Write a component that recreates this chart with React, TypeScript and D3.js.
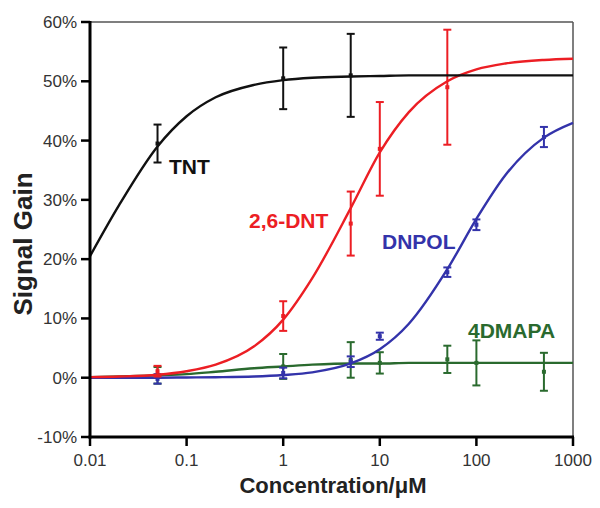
import React from "react";
import * as d3 from "d3";

const xTicks = [0.01, 0.1, 1, 10, 100, 1000];
const xTickLabels = ["0.01", "0.1", "1", "10", "100", "1000"];
const yTicks = [-10, 0, 10, 20, 30, 40, 50, 60];
const yTickLabels = ["-10%", "0%", "10%", "20%", "30%", "40%", "50%", "60%"];

const curveX = [0.01, 0.02, 0.05, 0.1, 0.2, 0.5, 1, 2, 5, 10, 20, 50, 100, 200, 500, 1000];
const tntCurve = [20.5, 29.1, 39.0, 44.1, 47.3, 49.4, 50.2, 50.6, 50.8, 50.9, 51.0, 51.0, 51.0, 51.0, 51.0, 51.0];
const dntCurve = [0.1, 0.2, 0.5, 1.1, 2.2, 5.3, 9.8, 16.8, 28.6, 38.0, 44.8, 50.0, 52.0, 53.0, 53.6, 53.8];
const dnpolCurve = [0, 0, 0, 0.04, 0.08, 0.2, 0.45, 0.9, 2.4, 4.8, 9.1, 18.3, 26.8, 34.2, 40.5, 43.0];
const dmapaCurve = [0.1, 0.2, 0.4, 0.6, 1.0, 1.6, 1.9, 2.2, 2.4, 2.4, 2.5, 2.5, 2.5, 2.5, 2.5, 2.5];

const tntX = [0.05, 1, 5];
const tntY = [39.5, 50.5, 51.0];
const tntErr = [3.2, 5.2, 7.0];

const dntX = [0.05, 1, 5, 10, 50];
const dntY = [1.1, 10.4, 26.0, 38.6, 49.0];
const dntErr = [0.9, 2.5, 5.4, 7.9, 9.7];

const dnpolX = [0.05, 1, 5, 10, 50, 100, 500];
const dnpolY = [-0.2, 0.8, 2.7, 7.0, 17.8, 25.8, 40.6];
const dnpolErr = [0.8, 0.9, 0.9, 0.6, 0.8, 0.9, 1.7];

const dmapaX = [0.05, 1, 5, 10, 50, 100, 500];
const dmapaY = [0.4, 1.9, 3.0, 2.5, 3.1, 2.5, 1.0];
const dmapaErr = [1.4, 2.1, 3.0, 1.8, 2.3, 3.8, 3.2];

const series = [
  { name: "4DMAPA", color: "#2a6a2e", curve: dmapaCurve, px: dmapaX, py: dmapaY, pe: dmapaErr, lx: 468, ly: 338 },
  { name: "DNPOL", color: "#3333aa", curve: dnpolCurve, px: dnpolX, py: dnpolY, pe: dnpolErr, lx: 382, ly: 249 },
  { name: "2,6-DNT", color: "#ec1e24", curve: dntCurve, px: dntX, py: dntY, pe: dntErr, lx: 249, ly: 228 },
  { name: "TNT", color: "#111111", curve: tntCurve, px: tntX, py: tntY, pe: tntErr, lx: 169, ly: 174 },
];

export default function App() {
  const left = 90, right = 573, top = 22, bottom = 437;
  const x = d3.scaleLog().domain([0.01, 1000]).range([left, right]);
  const y = d3.scaleLinear().domain([-10, 60]).range([bottom, top]);
  const line = d3
    .line<number>()
    .x((_, i) => x(curveX[i]))
    .y((d) => y(d))
    .curve(d3.curveMonotoneX);
  const font = "Liberation Sans, Arial, Helvetica, sans-serif";

  return (
    <svg width={600} height={508} style={{ position: "absolute", left: 0, top: 0, display: "block", background: "#fff" }}>
      <line x1={left} x2={right} y1={top} y2={top} stroke="#555" strokeWidth={1.5} />
      <line x1={right} x2={right} y1={top} y2={bottom} stroke="#555" strokeWidth={1.5} />

      {series.map((s) => (
        <g key={s.name}>
          <path d={line(s.curve) || ""} fill="none" stroke={s.color} strokeWidth={2.4} />
          {s.px.map((v, i) => {
            const cx = x(v);
            const y1 = y(s.py[i] + s.pe[i]);
            const y2 = y(s.py[i] - s.pe[i]);
            return (
              <g key={i} stroke={s.color} strokeWidth={2}>
                <line x1={cx} x2={cx} y1={y1} y2={y2} />
                <line x1={cx - 4} x2={cx + 4} y1={y1} y2={y1} />
                <line x1={cx - 4} x2={cx + 4} y1={y2} y2={y2} />
                <rect x={cx - 2} y={y(s.py[i]) - 2} width={4} height={4} fill={s.color} stroke="none" />
              </g>
            );
          })}
          <text x={s.lx} y={s.ly} fill={s.color} fontFamily={font} fontWeight="bold" fontSize={21}>
            {s.name}
          </text>
        </g>
      ))}

      <line x1={left} x2={left} y1={top - 1} y2={bottom + 1.5} stroke="#000" strokeWidth={3} />
      <line x1={left - 1.5} x2={right + 1} y1={bottom} y2={bottom} stroke="#000" strokeWidth={3} />
      {yTicks.map((t, i) => (
        <g key={t}>
          <line x1={left - 9} x2={left} y1={y(t)} y2={y(t)} stroke="#000" strokeWidth={2.5} />
          <text x={77} y={y(t)} dy="0.35em" textAnchor="end" fontFamily={font} fontSize={17} fill="#333">
            {yTickLabels[i]}
          </text>
        </g>
      ))}
      {xTicks.map((t, i) => (
        <g key={t}>
          <line x1={x(t)} x2={x(t)} y1={bottom} y2={bottom + 9} stroke="#000" strokeWidth={2.5} />
          <text x={x(t)} y={466} textAnchor="middle" fontFamily={font} fontSize={17} fill="#333">
            {xTickLabels[i]}
          </text>
        </g>
      ))}
      <text x={333} y={493} textAnchor="middle" fontFamily={font} fontWeight="bold" fontSize={22} fill="#222">
        Concentration/μM
      </text>
      <text
        transform="translate(32,244) rotate(-90)"
        textAnchor="middle"
        fontFamily={font}
        fontWeight="bold"
        fontSize={26}
        fill="#222"
      >
        Signal Gain
      </text>
    </svg>
  );
}
